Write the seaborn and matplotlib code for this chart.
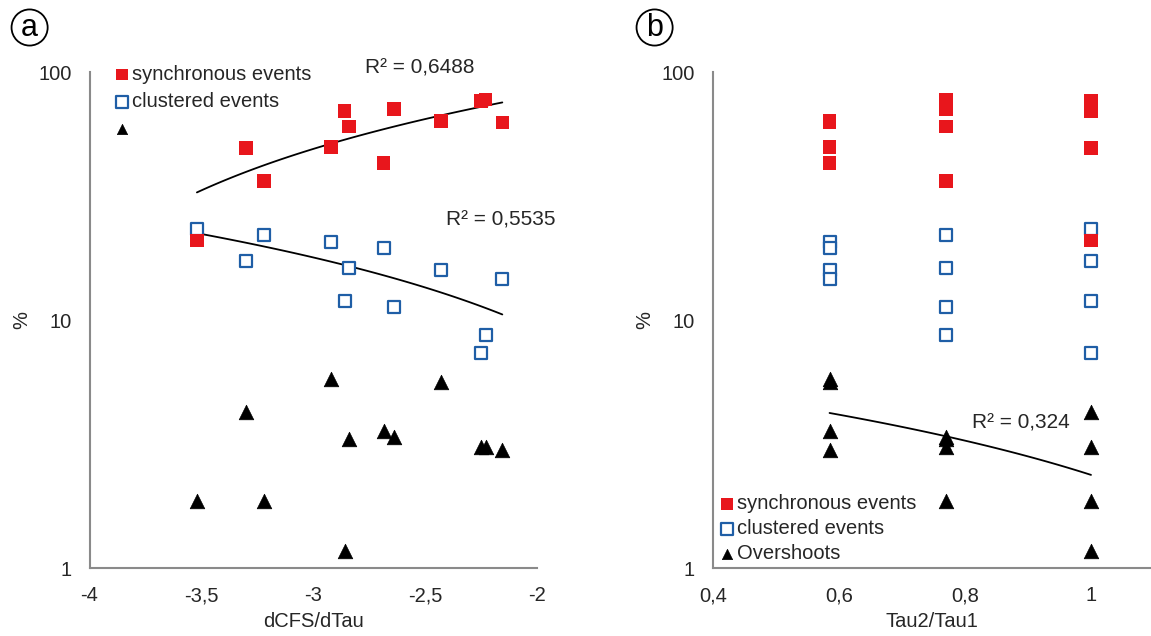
import numpy as np
import pandas as pd
import matplotlib
matplotlib.use('Agg')
import matplotlib.pyplot as plt
import seaborn as sns
from matplotlib.ticker import FixedLocator, NullFormatter, LogLocator

# one value per event
dcfs_dtau = [-3.52, -3.30, -3.22, -2.92, -2.86, -2.84, -2.685, -2.64, -2.43, -2.25, -2.23, -2.155]
tau_ratio = [1.0, 1.0, 0.77, 0.585, 1.0, 0.77, 0.585, 0.77, 0.585, 1.0, 0.77, 0.585]
synchronous = [20.9, 49.4, 36.4, 49.8, 69.5, 60.2, 42.9, 70.8, 63.3, 76.4, 77.6, 62.5]
clustered = [23.2, 17.3, 22.1, 20.7, 11.9, 16.2, 19.6, 11.3, 15.9, 7.36, 8.7, 14.6]
overshoots = [1.87, 4.25, 1.87, 5.8, 1.17, 3.3, 3.58, 3.37, 5.6, 3.08, 3.08, 2.98]

r2_a = ['R² = 0,6488', 'R² = 0,5535']
r2_b = 'R² = 0,324'
labels = ['synchronous events', 'clustered events', 'Overshoots']
xticks_a = [-4, -3.5, -3, -2.5, -2]
xticks_b = [0.4, 0.6, 0.8, 1.0]

RED = '#e8161c'
BLUE = '#1f5ea6'
GREY = '#8a8a8a'
TXT = '#262626'
FS = 14.5

df = pd.DataFrame({'dcfs_dtau': dcfs_dtau, 'tau_ratio': tau_ratio,
                   'synchronous': synchronous, 'clustered': clustered,
                   'overshoots': overshoots})

sns.set_theme(style='white')
plt.rcParams['font.family'] = ['Liberation Sans', 'DejaVu Sans']

fig = plt.figure(figsize=(11.51, 6.36), dpi=100)
ax_a = fig.add_axes([89.5/1151, 68/636, 447.5/1151, 496/636])
ax_b = fig.add_axes([713/1151, 68/636, 438/1151, 496/636])


def draw_points(ax, xcol):
    sns.scatterplot(data=df, x=xcol, y='clustered', marker='s', s=70,
                    color=BLUE, facecolor='white', edgecolor=BLUE,
                    linewidth=1.6, zorder=3, ax=ax)
    h_clu = ax.collections[-1]
    sns.scatterplot(data=df, x=xcol, y='synchronous', marker='s', s=95,
                    color=RED, edgecolor='none', linewidth=0, zorder=4, ax=ax)
    h_syn = ax.collections[-1]
    sns.scatterplot(data=df, x=xcol, y='overshoots', marker='^', s=110,
                    color='black', edgecolor='black', linewidth=0.5,
                    zorder=5, ax=ax)
    h_ovs = ax.collections[-1]
    return [h_syn, h_clu, h_ovs]


def style_axes(ax):
    ax.set_yscale('log')
    ax.set_ylim(1, 100)
    ax.set_yticks([1, 10, 100])
    ax.set_yticklabels(['1', '10', '100'])
    ax.yaxis.set_minor_locator(LogLocator(base=10, subs=np.arange(2, 10)))
    ax.yaxis.set_minor_formatter(NullFormatter())
    for side in ['top', 'right']:
        ax.spines[side].set_visible(False)
    for side in ['left', 'bottom']:
        ax.spines[side].set_color(GREY)
        ax.spines[side].set_linewidth(1.5)
    ax.tick_params(axis='both', which='both', direction='in', length=5,
                   width=1, color=GREY, labelsize=FS, labelcolor=TXT)
    ax.tick_params(axis='y', which='both', pad=13)
    ax.tick_params(axis='x', which='both', pad=13)
    ax.set_ylabel('%', fontsize=FS, color=TXT, labelpad=5)


def style_legend(leg):
    # legend keys are drawn a bit smaller than the plotted points
    for h, size in zip(leg.legend_handles, [72, 85, 55]):
        h.set_sizes([size])


# panel a
handles_a = draw_points(ax_a, 'dcfs_dtau')
sns.regplot(data=df, x='dcfs_dtau', y='synchronous', scatter=False, ci=None,
            color='black', line_kws=dict(lw=1.3), ax=ax_a)
sns.regplot(data=df, x='dcfs_dtau', y='clustered', scatter=False, ci=None,
            color='black', line_kws=dict(lw=1.3), ax=ax_a)
style_axes(ax_a)
ax_a.set_xlim(-4, -2)
ax_a.set_xticks(xticks_a)
ax_a.set_xticklabels([f'{t:g}'.replace('.', ',') for t in xticks_a])
ax_a.set_xlabel('dCFS/dTau', fontsize=FS, color=TXT, labelpad=5)
ax_a.text(-2.769, 103.5, r2_a[0], fontsize=15, color=TXT, va='center')
ax_a.text(-2.408, 25.3, r2_a[1], fontsize=15, color=TXT, va='center')
leg_a = ax_a.legend(handles_a, [labels[0], labels[1], ''], loc='upper left',
                    bbox_to_anchor=(0.0585, 1.0145), frameon=False, fontsize=FS,
                    handlelength=0.6, handletextpad=0.2, labelspacing=0.42,
                    borderpad=0, borderaxespad=0, labelcolor=TXT)
style_legend(leg_a)

# panel b
handles_b = draw_points(ax_b, 'tau_ratio')
sns.regplot(data=df, x='tau_ratio', y='overshoots', scatter=False, ci=None,
            color='black', line_kws=dict(lw=1.3), ax=ax_b)
style_axes(ax_b)
ax_b.set_xlim(0.4, 0.4 + 438/630)
ax_b.xaxis.set_major_locator(FixedLocator(xticks_b))
ax_b.xaxis.set_minor_locator(FixedLocator([0.5, 0.7, 0.9]))
ax_b.set_xticklabels([f'{t:g}'.replace('.', ',') for t in xticks_b])
ax_b.set_xlabel('Tau2/Tau1', fontsize=FS, color=TXT, labelpad=5)
ax_b.text(0.8106, 3.83, r2_b, fontsize=15, color=TXT, va='center')
leg_b = ax_b.legend(handles_b, labels, loc='lower left',
                    bbox_to_anchor=(0.018, 0.0095), frameon=False, fontsize=FS,
                    handlelength=0.6, handletextpad=0.2, labelspacing=0.3,
                    borderpad=0, borderaxespad=0, labelcolor=TXT)
style_legend(leg_b)

# circled panel letters
for xp, letter in [(29.6, 'a'), (654.6, 'b')]:
    fig.text(xp / 1151, 1 - 27.5 / 636, letter, fontsize=22, ha='center',
             va='center', color='black',
             bbox=dict(boxstyle='circle,pad=0.1', fc='white', ec='black', lw=1.3))

fig.savefig('out.png', dpi=100)
